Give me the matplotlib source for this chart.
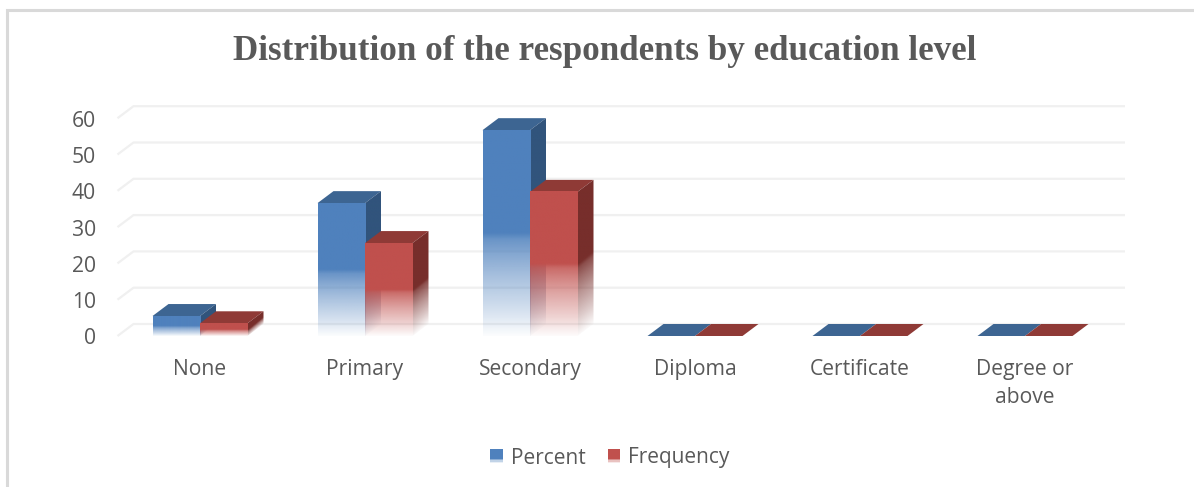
import numpy as np
import matplotlib
matplotlib.use('Agg')
import matplotlib.pyplot as plt
from matplotlib.lines import Line2D
from matplotlib.patches import Polygon, Rectangle
from matplotlib.legend_handler import HandlerBase
from matplotlib.transforms import ScaledTranslation

categories = ['None', 'Primary', 'Secondary', 'Diploma', 'Certificate', 'Degree or\nabove']
percent = [5.5, 36.6, 56.7, 0, 0, 0]
frequency = [3.5, 25.6, 39.7, 0, 0, 0]
y_ticks = [0, 10, 20, 30, 40, 50, 60]

W, H = 1194, 487
GREY = '#595959'
SANS = 'Open Sans'

fig = plt.figure(figsize=(W / 100, H / 100), dpi=100, facecolor='white')

# axes: front plane of the fake 3D box, 0 sits at pixel row 336, 3.63 px per unit
left_px, right_px, base_px, top_px = 117.5, 1125, 336, 96
ax = fig.add_axes([left_px / W, 1 - base_px / H, (right_px - left_px) / W, (base_px - top_px) / H])
ax.set_xlim(-0.5, -0.5 + (right_px - left_px) / 165)
ax.set_ylim(0, (base_px - top_px) / 3.63)
ax.patch.set_visible(False)
for s in ax.spines.values():
    s.set_visible(False)

dx = 16 / 165   # depth offset in data units
dy = 12 / 3.63
bar_w = 47.5 / 165


def fade(t):
    # reflection fade of the bars, t = height above the floor / bar height
    return np.interp(t, [0, 0.13, 0.29, 0.40, 0.47, 0.50], [0.02, 0.25, 0.5, 0.7, 0.85, 1])


def rgba_image(color, alpha):
    rgb = matplotlib.colors.to_rgb(color)
    img = np.zeros(alpha.shape + (4,))
    img[..., :3] = rgb
    img[..., 3] = alpha
    return img


def draw_bar(x, v, front, side, top, z):
    # top face
    ax.add_patch(Polygon([(x, v), (x + bar_w, v), (x + bar_w + dx, v + dy), (x + dx, v + dy)],
                         closed=True, fc=top, ec='none', zorder=z, clip_on=False))
    if v <= 0:
        return
    # side face, fade follows the slanted floor edge
    xx, yy = np.meshgrid(np.linspace(0, 1, 12), np.linspace(0, v + dy, 300))
    a = fade(np.clip((yy - xx * dy) / v, 0, 1))
    a[yy > v + xx * dy] = 1
    im = ax.imshow(rgba_image(side, a), origin='lower', aspect='auto', zorder=z,
                   extent=(x + bar_w, x + bar_w + dx, 0, v + dy), interpolation='bilinear')
    clip = Polygon([(x + bar_w, 0), (x + bar_w + dx, dy), (x + bar_w + dx, v + dy), (x + bar_w, v)],
                   closed=True, transform=ax.transData)
    im.set_clip_on(True)
    im.set_clip_path(clip)
    # front face
    t = np.linspace(0, 1, 300).reshape(-1, 1)
    ax.imshow(rgba_image(front, fade(t)), origin='lower', aspect='auto', zorder=z + 0.1,
              extent=(x, x + bar_w, 0, v), interpolation='bilinear', clip_on=False)


# gridlines on the back wall with the little step on the left side wall
x0 = -0.5
x1 = ax.get_xlim()[1]
for v in y_ticks:
    ax.plot([x0, x0 + dx, x1], [v, v + dy, v + dy], color='#F0F0F0', lw=1.6, zorder=1,
            clip_on=False, solid_capstyle='butt')

pos = np.arange(len(categories))
for i in pos:
    draw_bar(i - bar_w, percent[i], '#4F81BD', '#31547C', '#3D6592', 2 + i)
    draw_bar(i, frequency[i], '#C0504D', '#772E2B', '#8F3A36', 2.5 + i)

ax.set_xlim(-0.5, -0.5 + (right_px - left_px) / 165)
ax.set_ylim(0, (base_px - top_px) / 3.63)

ax.set_yticks(y_ticks)
ax.set_xticks(pos)
ax.set_xticklabels(categories, fontsize=15.2, family=SANS, color=GREY, linespacing=1.42)
ax.tick_params(axis='y', length=0, pad=15.5, labelsize=15.2, labelcolor=GREY)
ax.tick_params(axis='x', length=0, pad=16.5)
for lab in ax.get_yticklabels():
    lab.set_family(SANS)
    lab.set_transform(lab.get_transform() + ScaledTranslation(0, -0.5 / 100, fig.dpi_scale_trans))

fig.text(605 / W, 1 - 51.5 / H, 'Distribution of the respondents by education level', ha='center', va='center',
         family='Liberation Serif', weight='bold', fontsize=25.2, color=GREY)

# chart frame, cut off on the right and at the bottom
fig.add_artist(Line2D([7 / W, 7 / W, 1], [0, 1 - 9.5 / H, 1 - 9.5 / H], color='#D9D9D9', lw=2.2,
                      solid_joinstyle='miter', transform=fig.transFigure))


class FadeSwatch(HandlerBase):
    def create_artists(self, legend, orig, xd, yd, width, height, fontsize, trans):
        color = orig.get_facecolor()
        out = []
        h = 10.0
        y0 = -yd + (height - h) / 2
        for k, a in enumerate([0.12, 0.35, 0.65, 1]):
            y = y0 + k * h / 9 if k < 3 else y0 + h / 3
            hh = h / 9 if k < 3 else 2 * h / 3
            out.append(Rectangle((-xd, y), width, hh, fc=color, alpha=a, ec='none', transform=trans))
        return out


handles = [Rectangle((0, 0), 1, 1, fc='#4F81BD'), Rectangle((0, 0), 1, 1, fc='#C0504D')]
leg = fig.legend(handles, ['Percent', 'Frequency'], loc='center', bbox_to_anchor=(610 / W, 1 - 458 / H),
                 ncol=2, frameon=False, handler_map={Rectangle: FadeSwatch()},
                 prop={'family': SANS, 'size': 15.0}, handlelength=0.62, handletextpad=0.38, columnspacing=1.04,
                 labelcolor=GREY)

fig.savefig('out.png', dpi=100)
